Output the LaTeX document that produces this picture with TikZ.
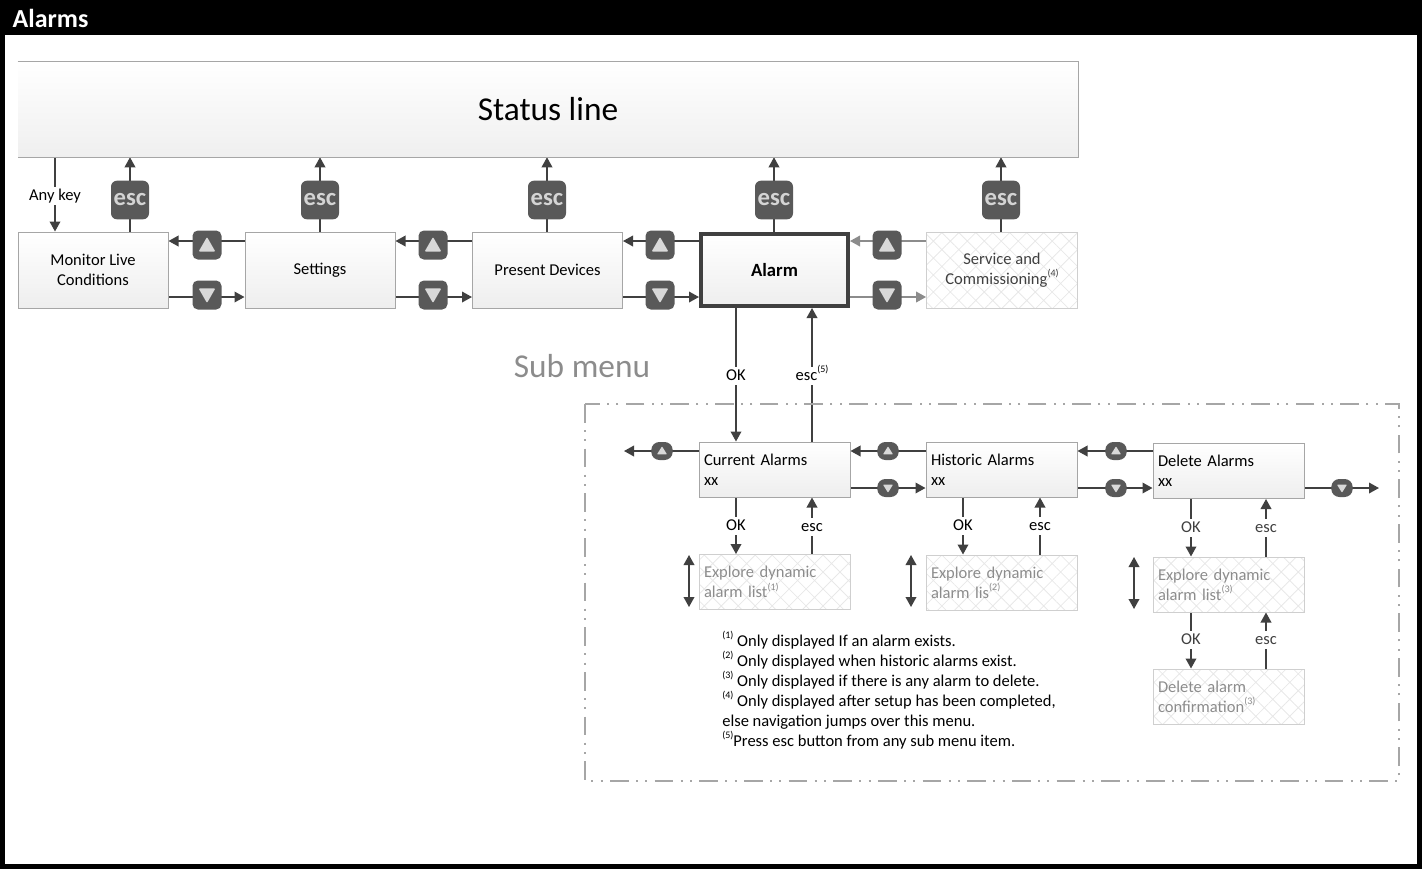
\documentclass[tikz,border=0pt]{standalone}
\usepackage{fontspec}
\setmainfont{Carlito}
\usetikzlibrary{arrows.meta,patterns.meta,backgrounds}
\definecolor{dk}{HTML}{404040}
\definecolor{btn}{HTML}{595959}
\definecolor{tri}{HTML}{D9D9D9}
\definecolor{esct}{HTML}{D4D4D4}
\definecolor{bord}{HTML}{A6A6A6}
\definecolor{hbord}{HTML}{CFCFCF}
\definecolor{hatchc}{HTML}{E8E8E8}
\definecolor{boxbot}{HTML}{EEEEEE}
\definecolor{stbot}{HTML}{EFEFEF}
\definecolor{gtxt}{HTML}{8C8C8C}
\definecolor{garr}{HTML}{8C8C8C}
\definecolor{framec}{HTML}{A6A6A6}
\newcommand\fnm[1]{\raisebox{0.45em}{\fontsize{7.5}{8}\selectfont(#1)}}
\begin{document}
\begin{tikzpicture}[x=0.75pt,y=-0.75pt,
  txt/.style={font=\fontsize{12.4}{15}\selectfont},
  mbox/.style={draw=bord,line width=0.75pt,top color=white,bottom color=boxbot,minimum width=112.5pt,minimum height=57pt,inner sep=0pt,align=center,txt},
  hmbox/.style={draw=hbord,line width=0.75pt,pattern={Hatch[angle=45,distance=9pt,line width=0.6pt]},pattern color=hatchc,minimum width=113.25pt,minimum height=57pt,inner sep=0pt,align=center,txt,text=dk},
  sbox/.style={draw=bord,line width=0.75pt,top color=white,bottom color=boxbot,text width=105.75pt,inner xsep=3.75pt,inner ysep=0pt,minimum height=41.25pt,align=left,txt},
  xbox/.style={draw=hbord,line width=0.75pt,pattern={Hatch[angle=45,distance=9pt,line width=0.6pt]},pattern color=hatchc,text width=105.75pt,inner xsep=3.75pt,inner ysep=0pt,minimum height=41.25pt,align=left,txt,text=gtxt},
  escbtn/.style={fill=btn,rounded corners=4.5pt,minimum width=28.5pt,minimum height=29pt,inner sep=0pt,text=esct,font=\fontsize{18.5}{18.5}\selectfont\bfseries},
  nb/.style={fill=btn,rounded corners=4pt,minimum width=21.75pt,minimum height=21.75pt,inner sep=0pt},
  nup/.style={nb,path picture={\fill[tri,rounded corners=0.8pt] ([shift={(-6.3pt,-5pt)}]path picture bounding box.center) -- ([shift={(6.3pt,-5pt)}]path picture bounding box.center) -- ([shift={(0pt,6pt)}]path picture bounding box.center) -- cycle;}},
  ndn/.style={nb,path picture={\fill[tri,rounded corners=0.8pt] ([shift={(-6.3pt,5pt)}]path picture bounding box.center) -- ([shift={(6.3pt,5pt)}]path picture bounding box.center) -- ([shift={(0pt,-6pt)}]path picture bounding box.center) -- cycle;}},
  sb/.style={fill=btn,rounded corners=6pt,minimum width=16pt,minimum height=13.5pt,inner sep=0pt},
  sup/.style={sb,path picture={\fill[tri,rounded corners=0.5pt] ([shift={(-3.75pt,-2.5pt)}]path picture bounding box.center) -- ([shift={(3.75pt,-2.5pt)}]path picture bounding box.center) -- ([shift={(0pt,3.5pt)}]path picture bounding box.center) -- cycle;}},
  sdn/.style={sb,path picture={\fill[tri,rounded corners=0.5pt] ([shift={(-3.75pt,2.5pt)}]path picture bounding box.center) -- ([shift={(3.75pt,2.5pt)}]path picture bounding box.center) -- ([shift={(0pt,-3.5pt)}]path picture bounding box.center) -- cycle;}},
  arr/.style={draw=dk,line width=1.1pt,-{Triangle[length=7.5pt,width=8pt]}},
  darr/.style={draw=dk,line width=1.1pt,{Triangle[length=7.5pt,width=8pt]}-{Triangle[length=7.5pt,width=8pt]}},
  lab/.style={fill=white,inner sep=1.5pt,text height=8.5pt,text depth=2.5pt,txt},
  glab/.style={lab,text=dk}
]
\useasboundingbox (0,0) rectangle (1422,869);
% frame and title
\fill[black] (0,0) rectangle (1422,35);
\draw[black,line width=3.5pt] (2.3,2.3) rectangle (1419.7,866.7);
\node[anchor=west,text=white,font=\fontsize{19.5}{20}\selectfont\bfseries] (title) at (8,18) {Alarms};

% status line
\node[top color=white,bottom color=stbot,minimum width=795pt,minimum height=71.25pt,inner sep=0pt,font=\fontsize{25}{25}\selectfont] (st) at (548,109.5) {Status line};
\draw[bord,line width=0.75pt] (st.north west) -- (st.north east) -- (st.south east) -- (st.south west);

% main row
\node[mbox] (mon) at (93,270) {Monitor Live\\Conditions};
\node[mbox] (set) at (320,270) {Settings};
\node[mbox] (pres) at (547.5,270) {Present Devices};
\node[mbox,draw=dk,line width=3pt,minimum width=110.25pt,minimum height=54pt,font=\fontsize{14}{16}\selectfont\bfseries] (alarm) at (774.5,270) {Alarm};
\node[hmbox] (serv) at (1002,270) {Service and\\Commissioning\fnm{4}};

\node[escbtn] (e1) at (130,200) {esc};
\node[escbtn] (e2) at (320,200) {esc};
\node[escbtn] (e3) at (547,200) {esc};
\node[escbtn] (e4) at (774,200) {esc};
\node[escbtn] (e5) at (1001,200) {esc};

\node[nup] (u1) at (207,245) {};
\node[ndn] (d1) at (207,295) {};
\node[nup] (u2) at (433,245) {};
\node[ndn] (d2) at (433,295) {};
\node[nup] (u3) at (660,245) {};
\node[ndn] (d3) at (660,295) {};
\node[nup] (u4) at (887,245) {};
\node[ndn] (d4) at (887,295) {};

\coordinate (yU) at (0,241);
\coordinate (yD) at (0,297);
\node[lab] (ak) at (55,196) {Any key};

% sub menu
\node[text=gtxt,font=\fontsize{25}{25}\selectfont] (subm) at (582,366) {Sub menu};
\draw[framec,line width=1.5pt,dash pattern=on 14pt off 5.5pt on 1.5pt off 5.5pt on 1.5pt off 5.5pt] (585,404) rectangle (1399,781);

\node[sbox] (cur) at (774.5,469.5) {Current Alarms\\xx};
\node[sbox] (his) at (1001.5,469.5) {Historic Alarms\\xx};
\node[sbox] (del) at (1228.5,471) {Delete Alarms\\xx};
\node[xbox] (exc) at (774.5,582) {Explore dynamic\\alarm list\fnm{1}};
\node[xbox] (exh) at (1001.5,582.5) {Explore dynamic\\alarm lis\fnm{2}};
\node[xbox] (exd) at (1228.5,584.5) {Explore dynamic\\alarm list\fnm{3}};
\node[xbox] (conf) at (1228.5,696.5) {Delete alarm\\confirmation\fnm{3}};

\node[sup] (su1) at (662,451) {};
\node[sup] (su2) at (888,451) {};
\node[sup] (su3) at (1116,451) {};
\node[sdn] (sd1) at (888,488) {};
\node[sdn] (sd2) at (1116,488) {};
\node[sdn] (sd3) at (1342,488) {};

\coordinate (yu2) at (0,451);
\coordinate (yd2) at (0,488);
\coordinate (lend) at (624,451);
\coordinate (rend) at (1379,488);
\coordinate (okA) at (736,0);
\coordinate (escA) at (812,0);
\coordinate (okB) at (963,0);
\coordinate (escB) at (1040,0);
\coordinate (okC) at (1191,0);
\coordinate (escC) at (1266,0);

\node[lab] (okm) at (736,376) {OK};
\node[lab] (escm) at (812,376) {esc\fnm{5}};
\node[lab] (ok1) at (736,526) {OK};
\node[lab] (esc1) at (812,527) {esc};
\node[lab] (ok2) at (963,526) {OK};
\node[lab] (esc2) at (1040,526) {esc};
\node[glab] (ok3) at (1191,528) {OK};
\node[glab] (esc3) at (1266,528) {esc};
\node[glab] (ok4) at (1191,640) {OK};
\node[glab] (esc4) at (1266,640) {esc};

\node[anchor=north west,inner sep=0pt,align=left,txt] (notes) at (722,631) {\fnm{1} Only displayed If an alarm exists.\\
\fnm{2} Only displayed when historic alarms exist.\\
\fnm{3} Only displayed if there is any alarm to delete.\\
\fnm{4} Only displayed after setup has been completed,\\
else navigation jumps over this menu.\\
\fnm{5}Press esc button from any sub menu item.};

\begin{scope}[on background layer]
  \draw[arr] (ak |- st.south) -- (ak |- mon.north);
  \draw[arr] (e1 |- mon.north) -- (e1 |- st.south);
  \draw[arr] (e2 |- set.north) -- (e2 |- st.south);
  \draw[arr] (e3 |- pres.north) -- (e3 |- st.south);
  \draw[arr] (e4 |- alarm.north) -- (e4 |- st.south);
  \draw[arr] (e5 |- serv.north) -- (e5 |- st.south);
  \draw[arr] (set.west |- yU) -- (mon.east |- yU);
  \draw[arr] (mon.east |- yD) -- (set.west |- yD);
  \draw[arr] (pres.west |- yU) -- (set.east |- yU);
  \draw[arr] (set.east |- yD) -- (pres.west |- yD);
  \draw[arr] (alarm.west |- yU) -- (pres.east |- yU);
  \draw[arr] (pres.east |- yD) -- (alarm.west |- yD);
  \draw[arr,draw=garr] (serv.west |- yU) -- (alarm.east |- yU);
  \draw[arr,draw=garr] (alarm.east |- yD) -- (serv.west |- yD);
  \draw[arr] (alarm.south -| okA) -- (cur.north -| okA);
  \draw[arr] (cur.north -| escA) -- (alarm.south -| escA);
  \draw[arr] (cur.west |- yu2) -- (lend);
  \draw[arr] (his.west |- yu2) -- (cur.east |- yu2);
  \draw[arr] (cur.east |- yd2) -- (his.west |- yd2);
  \draw[arr] (del.west |- yu2) -- (his.east |- yu2);
  \draw[arr] (his.east |- yd2) -- (del.west |- yd2);
  \draw[arr] (del.east |- yd2) -- (rend);
  \draw[arr] (cur.south -| okA) -- (exc.north -| okA);
  \draw[arr] (exc.north -| escA) -- (cur.south -| escA);
  \draw[arr] (his.south -| okB) -- (exh.north -| okB);
  \draw[arr] (exh.north -| escB) -- (his.south -| escB);
  \draw[arr] (del.south -| okC) -- (exd.north -| okC);
  \draw[arr] (exd.north -| escC) -- (del.south -| escC);
  \draw[arr] (exd.south -| okC) -- (conf.north -| okC);
  \draw[arr] (conf.north -| escC) -- (exd.south -| escC);
  \draw[darr] (689,555) -- (689,607);
  \draw[darr] (911,555) -- (911,607);
  \draw[darr] (1134,557) -- (1134,609);
\end{scope}
\end{tikzpicture}
\end{document}
